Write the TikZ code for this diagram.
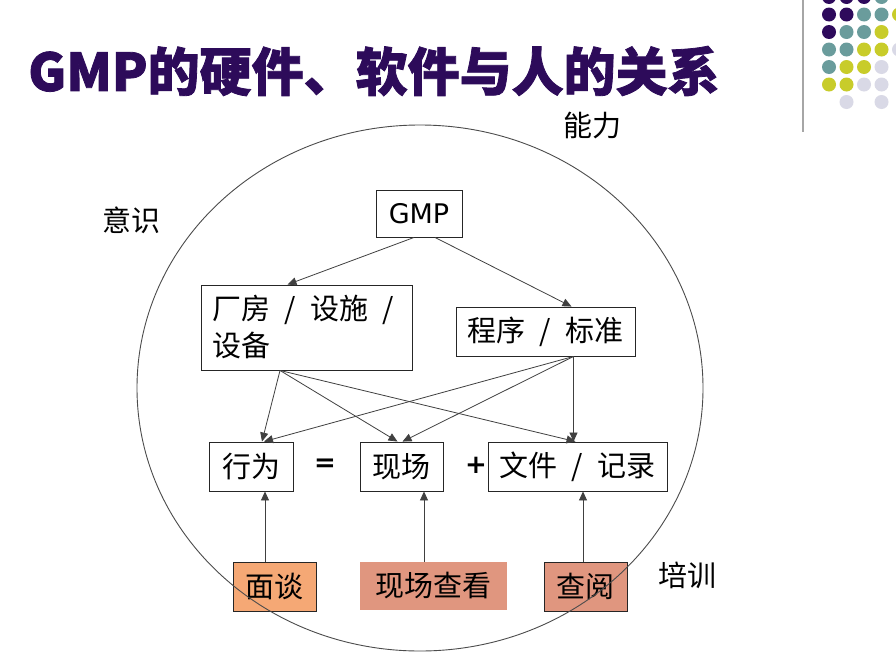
\documentclass[tikz,border=0pt]{standalone}
\usepackage{fontspec}
\setmainfont{Noto Sans CJK SC}
\newfontfamily\dejavu{DejaVu Sans}
\usetikzlibrary{arrows.meta}
\definecolor{titlecol}{HTML}{2D0B5A}
\definecolor{dP}{HTML}{2E0A5C}
\definecolor{dT}{HTML}{6A9C9C}
\definecolor{dY}{HTML}{C8CC2A}
\definecolor{dL}{HTML}{D9D9E6}
\definecolor{fillA}{HTML}{F5A875}
\definecolor{fillB}{HTML}{E0967F}
\newcommand\myslash{\hspace{0.5em}/\hspace{0.5em}}
\begin{document}
\begin{tikzpicture}[x=1pt,y=-1pt,
  box/.style={draw=black!85, line width=0.9pt, inner sep=0pt, minimum height=49pt, font=\fontsize{29}{34}\selectfont},
  arr/.style={draw=black!75, line width=0.8pt, -{Triangle[length=9pt,width=8pt]}},
  lbl/.style={font=\fontsize{29}{34}\selectfont, inner sep=0pt},
  op/.style={font=\dejavu\bfseries\fontsize{26}{30}\selectfont, inner sep=0pt},
  dot/.style={circle, inner sep=0pt, minimum size=14pt}]
\useasboundingbox[fill=white] (0,0) rectangle (896,659);
% decoration
\draw[gray!70, line width=2pt] (803,0) -- (803,132);
\foreach \c/\xx/\yy in {dP/829/-3, dP/846.5/-3, dP/864/-3, dT/881.5/-3,
  dP/829/14.5, dP/846.5/14.5, dT/864/14.5, dT/881.5/14.5, dY/899/14.5,
  dP/829/32, dT/846.5/32, dT/864/32, dY/881.5/32,
  dT/829/49.5, dT/846.5/49.5, dY/864/49.5, dY/881.5/49.5, dL/899/49.5,
  dT/829/67, dY/846.5/67, dY/864/67, dL/881.5/67,
  dY/829/84.5, dY/846.5/84.5, dL/864/84.5, dL/881.5/84.5,
  dL/846.5/102, dL/881.5/102}
  \node[dot, fill=\c] at (\xx,\yy) {};
% title
\node[anchor=west, inner sep=0pt, text=titlecol, font=\bfseries\addfontfeatures{FakeBold=1.5}\fontsize{52}{60}\selectfont] (title) at (28,71) {GMP的硬件、软件与人的关系};
% labels
\node[lbl] (nl) at (592,126) {能力};
\node[lbl] (ys) at (131,220) {意识};
\node[lbl] (px) at (687,575) {培训};
% boxes
\node[box, minimum width=86pt, minimum height=47pt, font=\dejavu\fontsize{27}{32}\selectfont] (gmp) at (419,213.5) {GMP};
\node[box, minimum width=211pt, minimum height=85pt, text width=189pt, align=left, inner xsep=11pt, font=\fontsize{29}{37}\selectfont] (fang) at (306.5,327.5) {厂房\myslash 设施\myslash\\设备};
\node[box, minimum width=179pt] (cx) at (545.5,331.5) {程序\myslash 标准};
\node[box, minimum width=84pt] (xw) at (251,466.5) {行为};
\node[box, minimum width=83pt] (xc) at (401.5,466.5) {现场};
\node[box, minimum width=179pt] (wj) at (577.5,466.5) {文件\myslash 记录};
\node[op] (eq) at (325,465) {=};
\node[op] (pl) at (476,465) {+};
\node[box, fill=fillA, minimum width=83pt] (mt) at (274.5,586.5) {面谈};
\node[box, draw=none, fill=fillB, minimum width=147pt, minimum height=48pt] (xcck) at (433.5,586) {现场查看};
\node[box, fill=fillB, minimum width=83pt] (cy) at (585.5,586.5) {查阅};
% connectors
\coordinate (fo) at ([xshift=-26.5pt]fang.south);
\coordinate (co) at ([xshift=28pt]cx.south);
\draw[arr] ([xshift=-5pt]gmp.south) -- ([xshift=-19pt]fang.north);
\draw[arr] ([xshift=16pt]gmp.south) -- ([xshift=26pt]cx.north);
\draw[arr] (fo) -- ([xshift=11pt]xw.north);
\draw[arr] (fo) -- ([xshift=-4pt]xc.north);
\draw[arr] (fo) -- ([xshift=-2pt]wj.north);
\draw[arr] (co) -- ([xshift=13pt]xw.north);
\draw[arr] (co) -- ([xshift=1pt]xc.north);
\draw[arr] (co) -- (co |- wj.north);
\coordinate (m1) at ([xshift=-9.5pt]mt.north);
\coordinate (m2) at ([xshift=-9.5pt]xcck.north);
\coordinate (m3) at ([xshift=-2.5pt]cy.north);
\draw[arr] (m1) -- (m1 |- xw.south);
\draw[arr] (m2) -- (m2 |- xc.south);
\draw[arr] (m3) -- (m3 |- wj.south);
% ellipse
\draw[line width=0.9pt, black!70] (420,388) ellipse [x radius=283pt, y radius=263pt];
\end{tikzpicture}
\end{document}
